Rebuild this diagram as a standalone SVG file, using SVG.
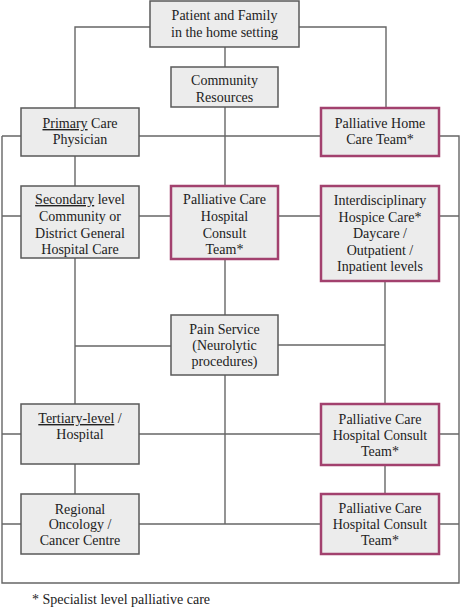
<svg xmlns="http://www.w3.org/2000/svg" width="461" height="608" viewBox="0 0 461 608">
<style>
.c{fill:none;stroke:#666;stroke-width:1.4}
.b{fill:#ececec;stroke:#5a5a5a;stroke-width:1.5}
.p{fill:#ececec;stroke:#a2416e;stroke-width:2.5}
text{font-family:"Liberation Serif","Times New Roman","DejaVu Serif",serif;font-size:14px;fill:#222;text-anchor:middle}
.u{text-decoration:underline}
</style>
<rect width="461" height="608" fill="#fff"/>
<g id="connectors" class="c">
<path d="M150,27 H75 V108"/>
<path d="M299,27 H386 V108"/>
<path d="M225,47 V67"/>
<path d="M225,107 V186"/>
<path d="M2,136 H321"/>
<path d="M439,136 H459 V583 H2 V136"/>
<path d="M2,216 H459"/>
<path d="M75,156 V186"/>
<path d="M75,258 V404"/>
<path d="M75,346 H171"/>
<path d="M225,259 V315"/>
<path d="M225,375 V524"/>
<path d="M278,345 H385"/>
<path d="M385,281 V404"/>
<path d="M385,465 V494"/>
<path d="M2,434 H459"/>
<path d="M2,524 H459"/>
<path d="M75,464 V494"/>
</g>
<g id="patient">
<rect class="b" x="150" y="1" width="149" height="46"/>
<text x="224.5" y="20">Patient and Family</text>
<text x="224.5" y="37">in the home setting</text>
</g>
<g id="community">
<rect class="b" x="171" y="67" width="107" height="40"/>
<text x="224.5" y="85">Community</text>
<text x="224.5" y="102">Resources</text>
</g>
<g id="primary">
<rect class="b" x="21" y="108" width="118" height="48"/>
<text x="80" y="128"><tspan class="u">Primary</tspan> Care</text>
<text x="80" y="144">Physician</text>
</g>
<g id="home">
<rect class="p" x="321" y="108" width="118" height="48"/>
<text x="380" y="128">Palliative Home</text>
<text x="380" y="144">Care Team*</text>
</g>
<g id="secondary">
<rect class="b" x="21" y="186" width="118" height="72"/>
<text x="80" y="204"><tspan class="u">Secondary</tspan> level</text>
<text x="80" y="221">Community or</text>
<text x="80" y="238">District General</text>
<text x="80" y="254">Hospital Care</text>
</g>
<g id="consult-mid">
<rect class="p" x="171" y="186" width="107" height="73"/>
<text x="224.5" y="204">Palliative Care</text>
<text x="224.5" y="221">Hospital</text>
<text x="224.5" y="238">Consult</text>
<text x="224.5" y="254">Team*</text>
</g>
<g id="hospice">
<rect class="p" x="321" y="186" width="118" height="95"/>
<text x="380" y="205">Interdisciplinary</text>
<text x="380" y="222">Hospice Care*</text>
<text x="380" y="238">Daycare /</text>
<text x="380" y="255">Outpatient /</text>
<text x="380" y="271">Inpatient levels</text>
</g>
<g id="pain">
<rect class="b" x="171" y="315" width="107" height="60"/>
<text x="224.5" y="334">Pain Service</text>
<text x="224.5" y="350">(Neurolytic</text>
<text x="224.5" y="366">procedures)</text>
</g>
<g id="tertiary">
<rect class="b" x="21" y="404" width="118" height="60"/>
<text x="80" y="423"><tspan class="u">Tertiary-level</tspan> /</text>
<text x="80" y="439">Hospital</text>
</g>
<g id="consult-right1">
<rect class="p" x="321" y="404" width="118" height="61"/>
<text x="380" y="424">Palliative Care</text>
<text x="380" y="440">Hospital Consult</text>
<text x="380" y="456">Team*</text>
</g>
<g id="regional">
<rect class="b" x="21" y="494" width="118" height="60"/>
<text x="80" y="514">Regional</text>
<text x="80" y="529">Oncology /</text>
<text x="80" y="545">Cancer Centre</text>
</g>
<g id="consult-right2">
<rect class="p" x="321" y="494" width="118" height="60"/>
<text x="380" y="513">Palliative Care</text>
<text x="380" y="529">Hospital Consult</text>
<text x="380" y="545">Team*</text>
</g>
<g id="footnote">
<text x="121" y="604">* Specialist level palliative care</text>
</g>
</svg>
